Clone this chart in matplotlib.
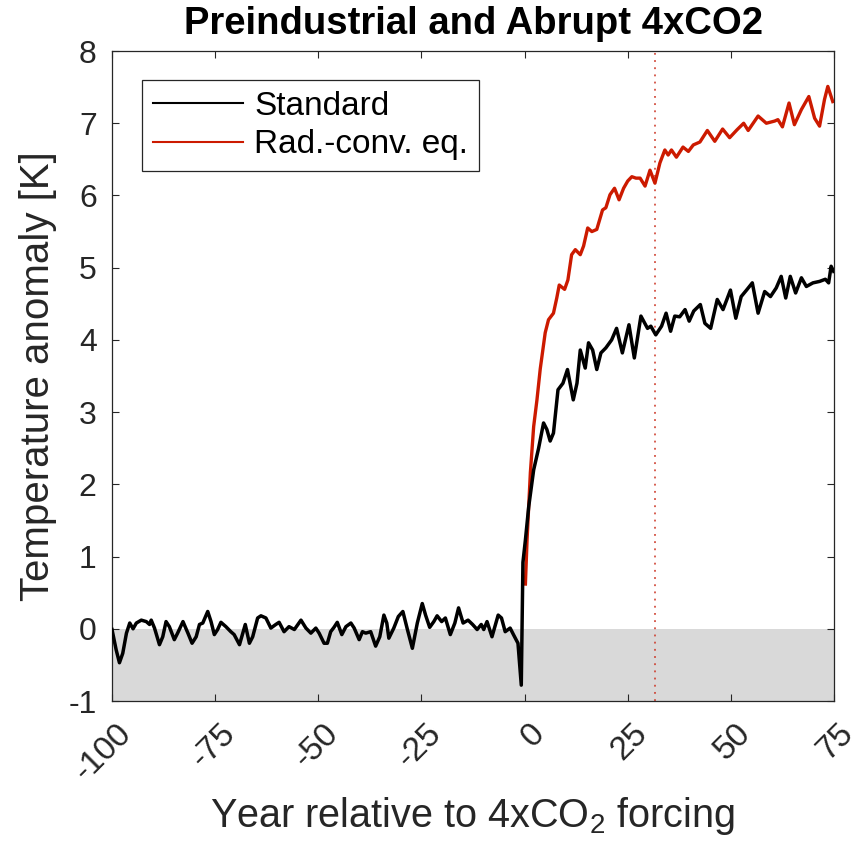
import numpy as np
import matplotlib
matplotlib.use("Agg")
import matplotlib.pyplot as plt
from matplotlib.transforms import ScaledTranslation

plt.rcParams['font.family'] = ['Liberation Sans', 'DejaVu Sans']
plt.rcParams['mathtext.default'] = 'regular'

# ---- data ----
# Preindustrial control (Standard), years relative to 4xCO2 forcing
pi_years = [-100.0, -99.0, -98.2, -97.4, -96.5, -95.7, -94.9, -94.1, -92.9, -91.7,
            -90.9, -90.5, -89.7, -88.5, -87.7, -86.9, -86.1, -84.9, -84.1, -82.8,
            -81.6, -80.6, -79.6, -78.8, -78.0, -76.8, -76.0, -75.2, -74.4, -73.6,
            -72.4, -71.2, -70.4, -69.1, -68.3, -67.7, -66.7, -65.9, -64.7, -63.9,
            -62.7, -61.5, -60.3, -59.5, -58.3, -57.1, -55.8, -54.2, -53.0, -51.8,
            -50.6, -49.8, -48.6, -47.8, -47.0, -46.2, -45.4, -44.3, -43.3, -42.1,
            -41.3, -40.1, -39.3, -38.5, -37.3, -36.1, -35.1, -34.1, -33.4, -32.9,
            -31.7, -30.6, -29.5, -28.4, -27.2, -26.0, -24.8, -24.0, -23.0, -22.0,
            -21.2, -20.1, -19.2, -18.0, -16.9, -16.0, -14.9, -13.7, -12.6, -11.5,
            -10.5, -9.9, -9.1, -7.9, -6.4, -5.6, -4.7, -3.5, -2.7, -1.6, -0.8]
pi_temp = [-0.01, -0.29, -0.47, -0.34, -0.06, 0.08, 0.00, 0.08, 0.12, 0.10,
           0.06, 0.12, 0.01, -0.22, -0.11, 0.10, 0.03, -0.15, -0.06, 0.10,
           -0.06, -0.20, -0.11, 0.06, 0.08, 0.24, 0.10, -0.08, -0.01, 0.09,
           0.03, -0.04, -0.08, -0.22, -0.06, 0.06, -0.20, -0.11, 0.15, 0.18,
           0.15, 0.01, 0.06, 0.09, -0.04, 0.03, -0.01, 0.12, 0.01, -0.06,
           0.01, -0.06, -0.20, -0.20, -0.04, 0.02, 0.09, -0.08, 0.03, 0.08,
           0.01, -0.15, -0.04, -0.06, -0.04, -0.24, -0.11, 0.19, 0.08, -0.13,
           0.01, 0.17, 0.24, -0.01, -0.27, 0.08, 0.35, 0.19, 0.02, 0.10,
           0.18, 0.10, 0.15, -0.08, 0.08, 0.29, 0.08, 0.12, 0.06, -0.01,
           0.06, -0.01, 0.10, -0.11, 0.19, 0.15, -0.04, 0.01, -0.08, -0.20, -0.78]

# Abrupt 4xCO2, Standard
std_years = [-0.4, 0.2, 1.0, 2.2, 3.4, 4.6, 5.4, 6.2, 7.0, 8.1,
             9.3, 10.4, 11.8, 12.7, 13.5, 14.7, 15.5, 16.5, 17.5, 18.5,
             19.7, 21.1, 22.3, 23.7, 25.3, 26.6, 28.2, 29.8, 30.6, 31.8,
             33.2, 34.3, 35.4, 36.4, 37.6, 38.9, 39.9, 41.0, 42.6, 43.7,
             45.1, 46.7, 48.1, 49.9, 51.2, 52.5, 53.8, 55.2, 56.6, 58.2,
             59.6, 61.0, 62.2, 63.3, 64.4, 65.7, 67.1, 68.3, 69.9, 71.5,
             72.9, 73.7, 74.3, 74.9]
std_temp = [0.92, 1.23, 1.69, 2.20, 2.50, 2.85, 2.76, 2.60, 2.71, 3.31,
            3.40, 3.59, 3.17, 3.40, 3.86, 3.61, 3.96, 3.86, 3.59, 3.82,
            3.89, 4.00, 4.16, 3.82, 4.21, 3.75, 4.33, 4.16, 4.19, 4.07,
            4.19, 4.37, 4.12, 4.33, 4.32, 4.42, 4.26, 4.40, 4.49, 4.23,
            4.16, 4.56, 4.42, 4.69, 4.30, 4.60, 4.69, 4.79, 4.37, 4.67,
            4.60, 4.72, 4.88, 4.58, 4.88, 4.65, 4.86, 4.74, 4.79, 4.81,
            4.84, 4.79, 5.02, 4.95]

# Abrupt 4xCO2, Radiative-convective equilibrium
rce_years = [0.2, 0.6, 1.4, 2.2, 3.0, 3.8, 5.0, 5.8, 7.0, 7.8,
             8.4, 9.7, 10.5, 11.4, 12.3, 13.5, 14.3, 15.3, 16.3, 17.5,
             18.9, 19.7, 20.7, 21.8, 22.9, 24.0, 25.0, 26.0, 27.0, 28.0,
             29.2, 30.4, 31.6, 32.8, 34.0, 34.8, 35.6, 36.8, 38.4, 39.7,
             40.9, 42.5, 44.3, 46.1, 48.0, 49.7, 51.5, 53.1, 54.2, 56.6,
             58.6, 60.6, 61.4, 62.5, 64.1, 65.4, 67.1, 68.9, 70.3, 71.5,
             72.7, 73.5, 74.7]
rce_temp = [0.62, 1.23, 2.16, 2.80, 3.17, 3.60, 4.10, 4.28, 4.37, 4.58,
            4.76, 4.70, 4.83, 5.18, 5.25, 5.18, 5.30, 5.55, 5.50, 5.53,
            5.80, 5.83, 6.01, 6.10, 5.94, 6.10, 6.20, 6.26, 6.24, 6.24,
            6.13, 6.35, 6.17, 6.45, 6.63, 6.56, 6.63, 6.53, 6.67, 6.61,
            6.70, 6.74, 6.90, 6.75, 6.92, 6.80, 6.91, 7.00, 6.90, 7.10,
            7.00, 7.03, 7.05, 6.95, 7.28, 6.98, 7.19, 7.37, 7.07, 6.96,
            7.33, 7.51, 7.30]

marker_year = 31.6
x_ticks = [-100, -75, -50, -25, 0, 25, 50, 75]
x_ticklabels = ['-100', '-75', '-50', '-25', '0', '25', '50', '75']
y_ticks = [-1, 0, 1, 2, 3, 4, 5, 6, 7, 8]
y_ticklabels = ['-1', '0', '1', '2', '3', '4', '5', '6', '7', '8']

RED = '#cc1a00'
AXC = '#262626'

fig = plt.figure(figsize=(8.59, 8.59), dpi=100)
ax = fig.add_axes([0.1304, 0.1839, 0.8405, 0.7567])

ax.set_xlim(-100, 75)
ax.set_ylim(-1, 8)

ax.axhspan(-1, 0, color='#d9d9d9', lw=0, zorder=0)

std_x = pi_years + std_years
std_y = pi_temp + std_temp
ax.plot(std_x, std_y, color='black', lw=2.5, zorder=3, label='Standard',
        solid_joinstyle='round')
ax.plot(rce_years, rce_temp, color=RED, lw=2.4, zorder=2, label='Rad.-conv. eq.',
        solid_joinstyle='round')
ax.axvline(marker_year, color='#cc3322', lw=1.1, ls=(0, (1.2, 3.5)), zorder=1)

ax.set_xticks(x_ticks)
ax.set_xticklabels(x_ticklabels, rotation=45, ha='right', va='top',
                   rotation_mode='anchor')
ax.set_yticks(y_ticks)
ax.set_yticklabels(y_ticklabels)
ax.tick_params(direction='in', length=5, width=0.8, colors=AXC, labelsize=23,
               top=True, right=True)
ax.tick_params(axis='x', labelsize=24, pad=12)
ax.tick_params(axis='y', pad=11)
for s in ax.spines.values():
    s.set_color(AXC)
    s.set_linewidth(0.9)

shift = ScaledTranslation(4 / 100, 0, fig.dpi_scale_trans)
for t in ax.xaxis.get_major_ticks():
    t.label1.set_transform(t.label1.get_transform() + shift)

ax.set_title('Preindustrial and Abrupt 4xCO2', fontsize=27.5, fontweight='bold', pad=12)
ax.set_xlabel('Year relative to 4xCO$_2$ forcing', fontsize=28.5, color=AXC, labelpad=6)
ax.set_ylabel('Temperature anomaly [K]', fontsize=29, color=AXC, labelpad=8)

leg = ax.legend(loc='upper left', bbox_to_anchor=(0.0416, 0.955), borderaxespad=0,
                fontsize=24, fancybox=False, edgecolor=AXC, framealpha=1,
                handlelength=2.7, handletextpad=0.35, borderpad=0.32, labelspacing=0.22)
leg.get_frame().set_linewidth(0.9)
for h in leg.get_lines():
    h.set_linewidth(1.5)

fig.savefig('out.png', dpi=100)
